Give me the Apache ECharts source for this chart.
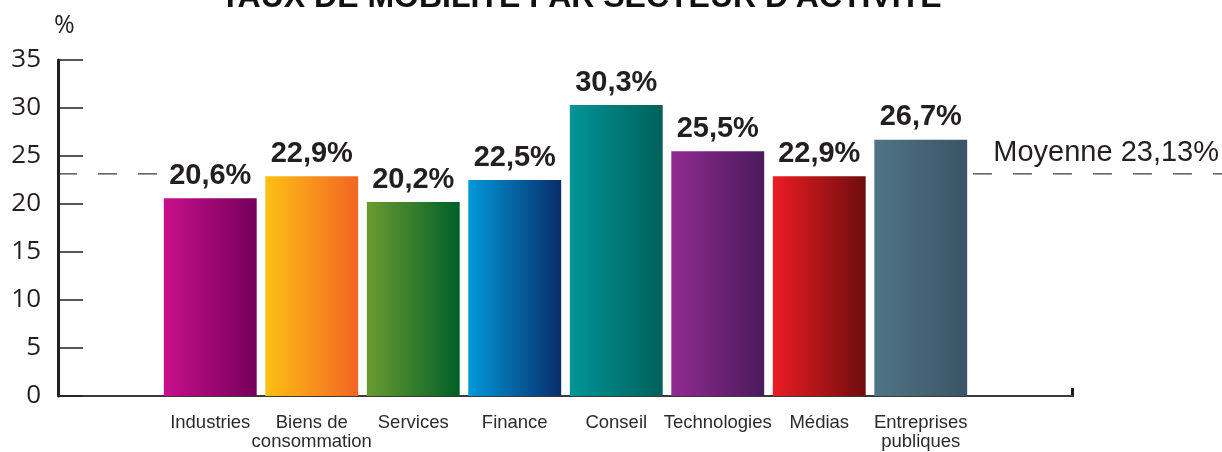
<!DOCTYPE html>
<html>
<head>
<meta charset="utf-8">
<script src="https://cdn.jsdelivr.net/npm/echarts@6/dist/echarts.min.js"></script>
<style>
  html, body { margin: 0; padding: 0; background: #fff; }
  #chart { width: 1222px; height: 452px; }
</style>
</head>
<body>
<div id="chart"></div>
<script>
// Mobility rate by business sector (%)
const titleText = "TAUX DE MOBILITÉ PAR SECTEUR D'ACTIVITÉ";
const sectors = ['', 'Industries', 'Biens de\nconsommation', 'Services', 'Finance', 'Conseil', 'Technologies', 'Médias', 'Entreprises\npubliques', ''];
const rates = ['-', 20.6, 22.9, 20.2, 22.5, 30.3, 25.5, 22.9, 26.7, '-'];
const average = 23.13;
const averageLabel = 'Moyenne 23,13%';
const yTicks = [0, 5, 10, 15, 20, 25, 30, 35];
// left / right colour of each bar's horizontal gradient
const gradients = [
  null,
  ['#c90f8c', '#74005a'],
  ['#fdc015', '#f26522'],
  ['#6b9b31', '#005f27'],
  ['#0098d8', '#0b2d6b'],
  ['#009597', '#00605a'],
  ['#912b91', '#4a1a5c'],
  ['#ec1c24', '#6e0d0e'],
  ['#4f7486', '#3a5565'],
  null
];

const fmt = v => v.toFixed(1).replace('.', ',') + '%';
const ink = '#231f20';

const chart = echarts.init(document.getElementById('chart'), null, { renderer: 'canvas' });

const seriesData = rates.map((v, i) => {
  if (v === '-') return '-';
  return {
    value: v,
    itemStyle: {
      color: new echarts.graphic.LinearGradient(0, 0, 1, 0, [
        { offset: 0, color: gradients[i][0] },
        { offset: 1, color: gradients[i][1] }
      ])
    }
  };
});

chart.setOption({
  animation: false,
  title: {
    text: titleText,
    left: 576,
    top: -23,
    textAlign: 'center',
    textStyle: { fontFamily: 'Liberation Sans', fontWeight: 'bold', fontSize: 32, color: '#111' }
  },
  grid: { left: 58, right: 149, top: 60, bottom: 56, containLabel: false },
  xAxis: {
    type: 'category',
    data: sectors,
    axisLine: { show: true, lineStyle: { color: '#3a3a3a', width: 2 } },
    axisTick: { show: false },
    axisLabel: {
      interval: 0,
      margin: 17,
      fontFamily: 'Liberation Sans',
      fontSize: 18.5,
      lineHeight: 19,
      color: '#2b2b2b'
    }
  },
  yAxis: {
    type: 'value',
    min: yTicks[0],
    max: yTicks[yTicks.length - 1],
    interval: 5,
    name: '%',
    nameLocation: 'end',
    nameGap: 22,
    nameTextStyle: { fontFamily: 'Open Sans', fontSize: 25, color: ink, align: 'left', padding: [0, 0, 0, -4] },
    axisLine: { show: true, lineStyle: { color: ink, width: 3 } },
    axisTick: { show: true, inside: true, length: 25, lineStyle: { color: ink, width: 1.5 } },
    splitLine: { show: false },
    axisLabel: { margin: 17, fontFamily: 'Open Sans', fontSize: 26, color: ink }
  },
  series: [{
    type: 'bar',
    data: seriesData,
    barCategoryGap: '8.5%',
    label: {
      show: true,
      position: 'top',
      distance: 8,
      formatter: p => fmt(p.value),
      fontFamily: 'Liberation Sans',
      fontWeight: 'bold',
      fontSize: 29,
      color: ink
    }
  }]
});

// Dashed average line (outside the bar area), average caption and axis end mark
function drawExtras() {
  const yAvg = chart.convertToPixel({ yAxisIndex: 0 }, average);
  const c1 = chart.convertToPixel({ xAxisIndex: 0 }, 1);
  const c2 = chart.convertToPixel({ xAxisIndex: 0 }, 2);
  const band = c2 - c1;
  const firstBarLeft = c1 - band * 0.455;
  const cLast = chart.convertToPixel({ xAxisIndex: 0 }, 8);
  const lastBarRight = cLast + band * 0.455;
  const axisLeft = chart.convertToPixel({ xAxisIndex: 0 }, 0) - band / 2;
  const axisRight = chart.convertToPixel({ xAxisIndex: 0 }, 9) + band / 2;
  const y0 = chart.convertToPixel({ yAxisIndex: 0 }, 0);
  const W = chart.getWidth();
  const dash = { stroke: '#3a3a3a', lineWidth: 1.2, lineDash: [19, 21] };

  chart.setOption({
    graphic: [
      { type: 'line', shape: { x1: axisLeft, y1: yAvg, x2: firstBarLeft - 6, y2: yAvg }, style: dash, silent: true },
      { type: 'line', shape: { x1: lastBarRight + 6, y1: yAvg, x2: W, y2: yAvg }, style: dash, silent: true },
      {
        type: 'text', x: W - 3, y: yAvg - 6,
        style: {
          text: averageLabel, align: 'right', verticalAlign: 'bottom',
          fontFamily: 'Liberation Sans', fontSize: 29, fill: ink
        },
        silent: true
      },
      { type: 'rect', shape: { x: axisRight - 2, y: y0 - 8, width: 3, height: 9 }, style: { fill: '#1a1a1a' }, silent: true }
    ]
  });
}
drawExtras();
</script>
</body>
</html>
